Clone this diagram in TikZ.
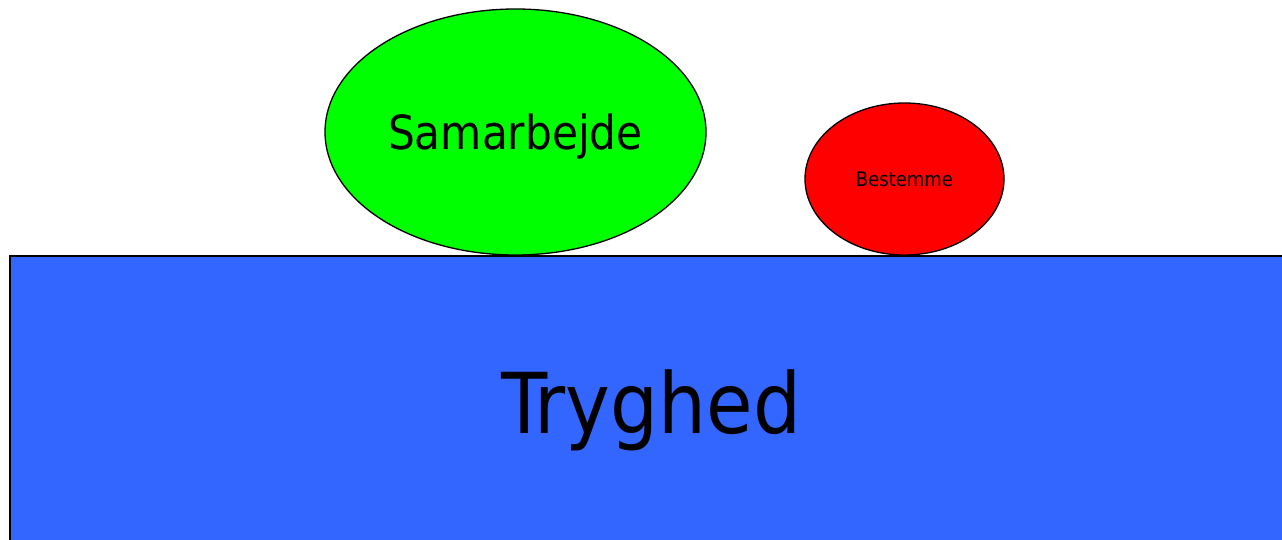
\documentclass[tikz,border=0pt]{standalone}
\usepackage{fontspec}
\setmainfont{DejaVu Sans Condensed}
\usetikzlibrary{shapes.geometric}

\definecolor{trygblue}{RGB}{51,102,255}
\definecolor{samgreen}{RGB}{0,255,0}
\definecolor{bestred}{RGB}{255,0,0}

\tikzset{
  blob/.style={ellipse,draw=black,line width=1.3pt,inner sep=0pt}
}

\begin{document}
\begin{tikzpicture}[x=1pt,y=-1pt]
      \useasboundingbox (0,0) rectangle (1282,540);
      \clip (0,0) rectangle (1282,540);
      \node[draw=black,line width=1.5pt,fill=trygblue,anchor=north west,
            minimum width=1300pt,minimum height=320pt,inner sep=0pt] (base) at (9,255) {};
      \node[anchor=base,font=\fontsize{84}{84}\selectfont] (tryg) at (651,433) {Tryghed};
      \node[blob,fill=samgreen,minimum width=381pt,minimum height=246pt,text depth=0pt,
            font=\fontsize{47}{47}\selectfont] (sam) at (515.5,132) {Samarbejde};
      \node[blob,fill=bestred,minimum width=199pt,minimum height=152pt,
            font=\fontsize{20}{20}\selectfont] (best) at (904.5,179) {Bestemme};
\end{tikzpicture}
\end{document}
